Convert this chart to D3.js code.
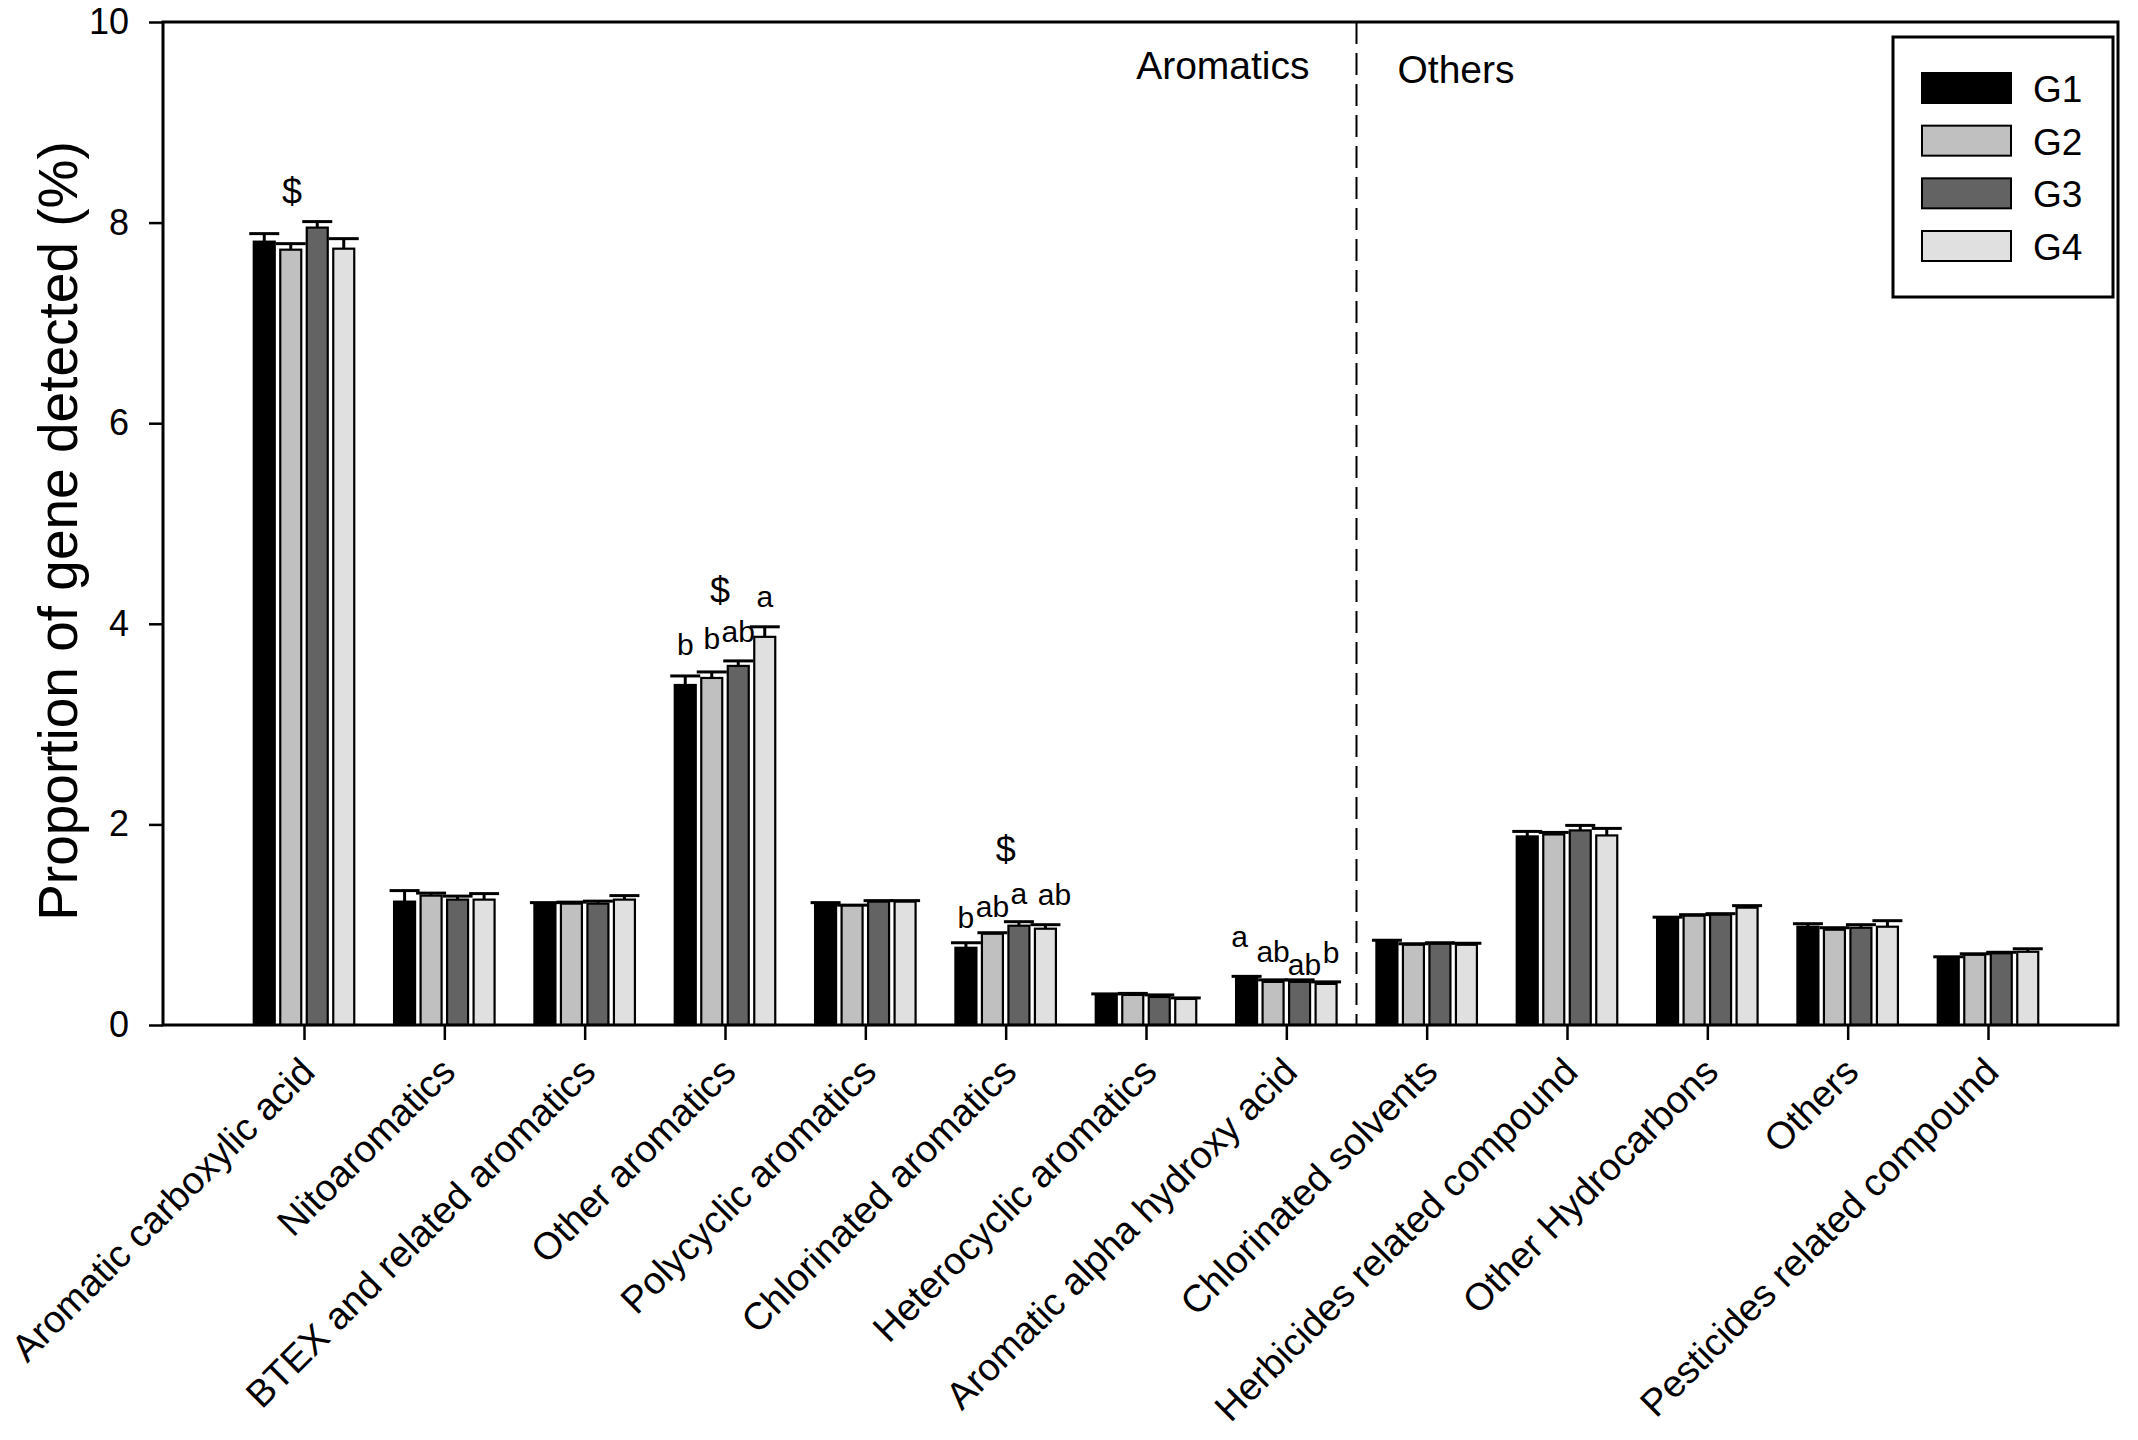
<!DOCTYPE html>
<html>
<head>
<meta charset="utf-8">
<script src="https://cdn.jsdelivr.net/npm/d3@7"></script>
<style>
  html, body { margin: 0; padding: 0; background: #fff; }
  svg { display: block; }
  text { font-family: Arial, "Liberation Sans", sans-serif; fill: #000; }
</style>
</head>
<body>
<svg id="chart" width="2138" height="1440"></svg>
<script>
// ---------------- data ----------------
const categories = [
  "Aromatic carboxylic acid", "Nitoaromatics", "BTEX and related aromatics",
  "Other aromatics", "Polycyclic aromatics", "Chlorinated aromatics",
  "Heterocyclic aromatics", "Aromatic alpha hydroxy acid", "Chlorinated solvents",
  "Herbicides related compound", "Other Hydrocarbons", "Others",
  "Pesticides related compound"
];
const seriesNames = ["G1", "G2", "G3", "G4"];
const seriesColors = ["#000000", "#c0c0c0", "#636363", "#e0e0e0"];

const g1Values = [7.81, 1.23, 1.21, 3.39, 1.21, 0.77, 0.30, 0.475, 0.83, 1.88, 1.07, 0.98, 0.675];
const g2Values = [7.73, 1.29, 1.21, 3.46, 1.19, 0.91, 0.30, 0.43, 0.80, 1.90, 1.09, 0.95, 0.70];
const g3Values = [7.95, 1.25, 1.21, 3.58, 1.23, 0.99, 0.28, 0.43, 0.81, 1.94, 1.10, 0.97, 0.715];
const g4Values = [7.74, 1.25, 1.25, 3.87, 1.23, 0.96, 0.26, 0.41, 0.80, 1.89, 1.17, 0.98, 0.73];

const g1Errors = [0.08, 0.11, 0.01, 0.09, 0.01, 0.05, 0.01, 0.01, 0.015, 0.05, 0.005, 0.03, 0.005];
const g2Errors = [0.06, 0.025, 0.015, 0.06, 0.005, 0.01, 0.015, 0.02, 0.01, 0.02, 0.01, 0.02, 0.01];
const g3Errors = [0.06, 0.035, 0.025, 0.05, 0.01, 0.04, 0.02, 0.02, 0.01, 0.05, 0.01, 0.03, 0.01];
const g4Errors = [0.10, 0.06, 0.04, 0.10, 0.01, 0.04, 0.01, 0.02, 0.015, 0.07, 0.02, 0.06, 0.03];

const yTicks = [0, 2, 4, 6, 8, 10];
const yTitle = "Proportion of gene detected (%)";

// significance letters: [category index, series index, label, y (data units), x nudge (category units)]
const sigLetters = [
  [3, 0, "b", 3.69, 0], [3, 1, "b", 3.75, 0], [3, 2, "ab", 3.82, 0], [3, 3, "a", 4.17, 0],
  [5, 0, "b", 0.967, 0], [5, 1, "ab", 1.077, 0], [5, 2, "a", 1.206, 0], [5, 3, "ab", 1.196, 0.065],
  [7, 0, "a", 0.78, -0.05], [7, 1, "ab", 0.63, 0], [7, 2, "ab", 0.50, 0.035], [7, 3, "b", 0.62, 0.035]
];
// "$" markers: [category index, y (data units), x nudge (category units)]
const dollarMarks = [[0, 8.19, -0.085], [3, 4.21, -0.035], [5, 1.625, 0]];

const sectionLabels = ["Aromatics", "Others"];
const dividerAfter = 7.5; // between category 7 and 8

// ---------------- drawing ----------------
(function () {
const allValues = [g1Values, g2Values, g3Values, g4Values];
const allErrors = [g1Errors, g2Errors, g3Errors, g4Errors];

const svg = d3.select("#chart");
const pLeft = 163, pRight = 2118, pTop = 22, pBottom = 1025;

const x = d3.scaleLinear().domain([0, categories.length - 1]).range([304, 1988]);
const y = d3.scaleLinear().domain([0, 10]).range([pBottom, pTop]);
const pitch = 26.5, barW = 21;
const barX = (c, s) => x(c) + (s - 1.5) * pitch;

const bars = [];
allValues.forEach((vals, s) => vals.forEach((v, c) => bars.push({c, s, v, e: allErrors[s][c]})));

// error bars
const eg = svg.append("g");
eg.selectAll("line.v").data(bars).join("line").attr("class", "v")
  .attr("x1", d => barX(d.c, d.s)).attr("x2", d => barX(d.c, d.s))
  .attr("y1", d => y(d.v)).attr("y2", d => y(d.v + d.e))
  .attr("stroke", "#000").attr("stroke-width", 3);
eg.selectAll("line.h").data(bars).join("line").attr("class", "h")
  .attr("x1", d => barX(d.c, d.s) - 15).attr("x2", d => barX(d.c, d.s) + 15)
  .attr("y1", d => y(d.v + d.e)).attr("y2", d => y(d.v + d.e))
  .attr("stroke", "#000").attr("stroke-width", 3);

svg.append("g").selectAll("rect").data(bars).join("rect")
  .attr("x", d => barX(d.c, d.s) - barW / 2)
  .attr("width", barW)
  .attr("y", d => y(d.v))
  .attr("height", d => y(0) - y(d.v))
  .attr("fill", d => seriesColors[d.s])
  .attr("stroke", "#000").attr("stroke-width", 2.2);

// frame
svg.append("rect").attr("x", pLeft).attr("y", pTop)
  .attr("width", pRight - pLeft).attr("height", pBottom - pTop)
  .attr("fill", "none").attr("stroke", "#000").attr("stroke-width", 3);

// y axis
const yAxis = d3.axisLeft(y).tickValues(yTicks).tickSize(14).tickPadding(20).tickFormat(d3.format("d"));
const ya = svg.append("g").attr("transform", `translate(${pLeft},0)`).call(yAxis);
ya.select(".domain").remove();
ya.selectAll(".tick line").attr("stroke", "#000").attr("stroke-width", 2.5);
ya.selectAll(".tick text").attr("font-size", 36).attr("font-family", "Arial, 'Liberation Sans', sans-serif").attr("fill", "#000");

// x axis ticks
const xAxis = d3.axisBottom(x).tickValues(d3.range(categories.length)).tickSize(15).tickFormat("");
const xa = svg.append("g").attr("transform", `translate(0,${pBottom})`).call(xAxis);
xa.select(".domain").remove();
xa.selectAll(".tick line").attr("stroke", "#000").attr("stroke-width", 2.5);

// category labels
svg.append("g").selectAll("text").data(categories).join("text")
  .attr("transform", (d, i) => `translate(${x(i) + 13},${pBottom + 49}) rotate(-45)`)
  .attr("text-anchor", "end")
  .attr("font-size", 38)
  .text(d => d);

// y title
svg.append("text")
  .attr("transform", `translate(77,${(925 + 137) / 2}) rotate(-90)`)
  .attr("text-anchor", "middle")
  .attr("font-size", 55)
  .text(yTitle);

// divider
const xd = x(dividerAfter);
svg.append("line").attr("x1", xd).attr("x2", xd).attr("y1", pTop).attr("y2", pBottom)
  .attr("stroke", "#000").attr("stroke-width", 2).attr("stroke-dasharray", "22,9");
svg.append("text").attr("x", xd - 47).attr("y", 79).attr("text-anchor", "end")
  .attr("font-size", 39).text(sectionLabels[0]);
svg.append("text").attr("x", xd + 41).attr("y", 83).attr("text-anchor", "start")
  .attr("font-size", 39).text(sectionLabels[1]);

// significance letters
svg.append("g").selectAll("text").data(sigLetters).join("text")
  .attr("x", d => barX(d[0], d[1]) + (x(1) - x(0)) * d[4])
  .attr("y", d => y(d[3]))
  .attr("text-anchor", "middle")
  .attr("font-size", 30)
  .text(d => d[2]);

svg.append("g").selectAll("text").data(dollarMarks).join("text")
  .attr("x", d => x(d[0] + d[2]))
  .attr("y", d => y(d[1]))
  .attr("text-anchor", "middle")
  .attr("font-size", 36)
  .text("$");

// legend
const lg = svg.append("g");
lg.append("rect").attr("x", 1893).attr("y", 37).attr("width", 220).attr("height", 260)
  .attr("fill", "#fff").attr("stroke", "#000").attr("stroke-width", 3);
const rowY = d3.scaleLinear().domain([0, 3]).range([73, 231]);
lg.selectAll("rect.sw").data(seriesNames).join("rect")
  .attr("class", "sw")
  .attr("x", 1922).attr("y", (d, i) => rowY(i))
  .attr("width", 89).attr("height", 30)
  .attr("fill", (d, i) => seriesColors[i])
  .attr("stroke", "#000").attr("stroke-width", 2);
lg.selectAll("text").data(seriesNames).join("text")
  .attr("x", 2033).attr("y", (d, i) => rowY(i) + 29)
  .attr("font-size", 37)
  .text(d => d);
})();
</script>
</body>
</html>
